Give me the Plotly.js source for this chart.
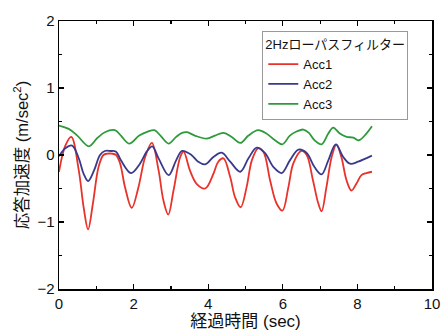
<!DOCTYPE html>
<html><head><meta charset="utf-8">
<script src="https://cdn.plot.ly/plotly-3.0.1.min.js"></script>
<style>html,body{margin:0;padding:0;background:#fff}</style>
</head><body><div id="chart" style="width:443px;height:336px"></div>
<script>
const legendTitle = "2Hzローパスフィルター";
const xTitle = "経過時間 (sec)";
const yTitle = "応答加速度 (m/sec<sup>2</sup>)";

const acc1X = [0, 0.17, 0.33, 0.53, 0.66, 0.78, 0.91, 1.06, 1.19, 1.3, 1.42, 1.53, 1.64, 1.77, 1.95, 2.13, 2.31, 2.49, 2.67, 2.8, 2.93, 3.07, 3.25, 3.34, 3.51, 3.69, 3.92, 4.14, 4.27, 4.41, 4.59, 4.72, 4.87, 5.03, 5.17, 5.34, 5.48, 5.66, 5.83, 5.99, 6.15, 6.28, 6.5, 6.64, 6.81, 6.95, 7.04, 7.17, 7.31, 7.44, 7.57, 7.71, 7.84, 7.98, 8.11, 8.24, 8.39];
const acc1Y = [-0.25, 0.14, 0.27, -0.23, -0.78, -1.11, -0.72, -0.18, 0.0, 0.02, 0.02, 0.0, -0.13, -0.48, -0.79, -0.48, -0.03, 0.18, -0.23, -0.68, -0.89, -0.53, -0.03, 0.05, -0.23, -0.43, -0.5, -0.28, -0.1, -0.05, -0.33, -0.63, -0.78, -0.48, -0.08, 0.1, 0.05, -0.38, -0.72, -0.83, -0.48, -0.13, 0.06, 0.0, -0.38, -0.72, -0.84, -0.48, -0.03, 0.16, -0.03, -0.38, -0.53, -0.42, -0.3, -0.27, -0.25];

const acc2X = [0, 0.17, 0.35, 0.53, 0.66, 0.78, 0.94, 1.1, 1.23, 1.38, 1.53, 1.66, 1.93, 2.17, 2.35, 2.5, 2.67, 2.94, 3.14, 3.3, 3.55, 3.73, 3.92, 4.14, 4.36, 4.59, 4.86, 5.08, 5.3, 5.52, 5.75, 5.97, 6.19, 6.42, 6.64, 6.85, 7.04, 7.22, 7.42, 7.62, 7.8, 8.02, 8.39];
const acc2Y = [-0.02, 0.1, 0.14, -0.05, -0.28, -0.39, -0.23, 0.0, 0.06, 0.06, 0.05, -0.08, -0.27, -0.13, 0.05, 0.13, -0.05, -0.3, -0.08, 0.06, 0.0, -0.1, -0.14, -0.03, 0.035, -0.1, -0.25, -0.05, 0.11, 0.03, -0.18, -0.27, -0.08, 0.08, 0.03, -0.18, -0.29, -0.08, 0.16, -0.03, -0.13, -0.1, -0.01];

const acc3X = [0, 0.26, 0.49, 0.8, 1.02, 1.23, 1.5, 1.66, 1.88, 2.15, 2.38, 2.56, 2.72, 2.94, 3.14, 3.3, 3.43, 3.64, 3.96, 4.18, 4.41, 4.63, 4.86, 5.08, 5.34, 5.56, 5.79, 5.99, 6.19, 6.37, 6.55, 6.7, 6.85, 7.04, 7.22, 7.35, 7.53, 7.71, 7.89, 8.04, 8.24, 8.39];
const acc3Y = [0.44, 0.39, 0.29, 0.13, 0.25, 0.34, 0.37, 0.29, 0.17, 0.29, 0.35, 0.37, 0.29, 0.17, 0.27, 0.33, 0.34, 0.29, 0.245, 0.29, 0.33, 0.27, 0.18, 0.29, 0.37, 0.32, 0.22, 0.16, 0.29, 0.35, 0.38, 0.33, 0.22, 0.16, 0.32, 0.41, 0.32, 0.27, 0.26, 0.22, 0.32, 0.43];

const xTicks = [0, 2, 4, 6, 8, 10];
const yTicks = [-2, -1, 0, 1, 2];

const font = "Liberation Sans, Arial, Noto Sans CJK JP, sans-serif";
const mk = (x, y, name, color) => ({x, y, name, type: 'scatter', mode: 'lines',
  line: {color, width: 1.8, shape: 'spline', smoothing: 1.0}});

const data = [
  mk(acc1X, acc1Y, 'Acc1', '#e8322a'),
  mk(acc2X, acc2Y, 'Acc2', '#3a3a8c'),
  mk(acc3X, acc3Y, 'Acc3', '#2f9a3c')
];

const axisCommon = {
  showline: true, linecolor: '#000', linewidth: 1.5, mirror: 'ticks',
  ticks: 'inside', ticklen: 5, tickwidth: 1.2, tickcolor: '#000',
  showgrid: false, zeroline: false,
  tickfont: {family: font, size: 15, color: '#111'}
};

const layout = {
  width: 443, height: 336,
  margin: {l: 59, r: 11, t: 21, b: 47},
  paper_bgcolor: '#fff', plot_bgcolor: '#fff',
  font: {family: font, color: '#111'},
  showlegend: true,
  legend: {
    x: 0.545, y: 0.962, xanchor: 'left', yanchor: 'top',
    bgcolor: '#fff', bordercolor: '#999', borderwidth: 1,
    font: {family: font, size: 13, color: '#111'},
    title: {text: legendTitle, font: {family: font, size: 13, color: '#111'}},
    tracegroupgap: 0
  },
  xaxis: Object.assign({}, axisCommon, {
    range: [0, 10], tickvals: xTicks,
    minor: {dtick: 1, ticks: 'inside', ticklen: 3, tickcolor: '#000'},
    title: {text: xTitle, font: {family: font, size: 17, color: '#111'}, standoff: 4}
  }),
  yaxis: Object.assign({}, axisCommon, {
    range: [-2, 2], tickvals: yTicks,
    minor: {dtick: 0.5, ticks: 'inside', ticklen: 3, tickcolor: '#000'},
    title: {text: yTitle, font: {family: font, size: 16.5, color: '#111'}, standoff: 4}
  })
};

Plotly.newPlot('chart', data, layout, {displayModeBar: false, staticPlot: true});
</script>
</body></html>
